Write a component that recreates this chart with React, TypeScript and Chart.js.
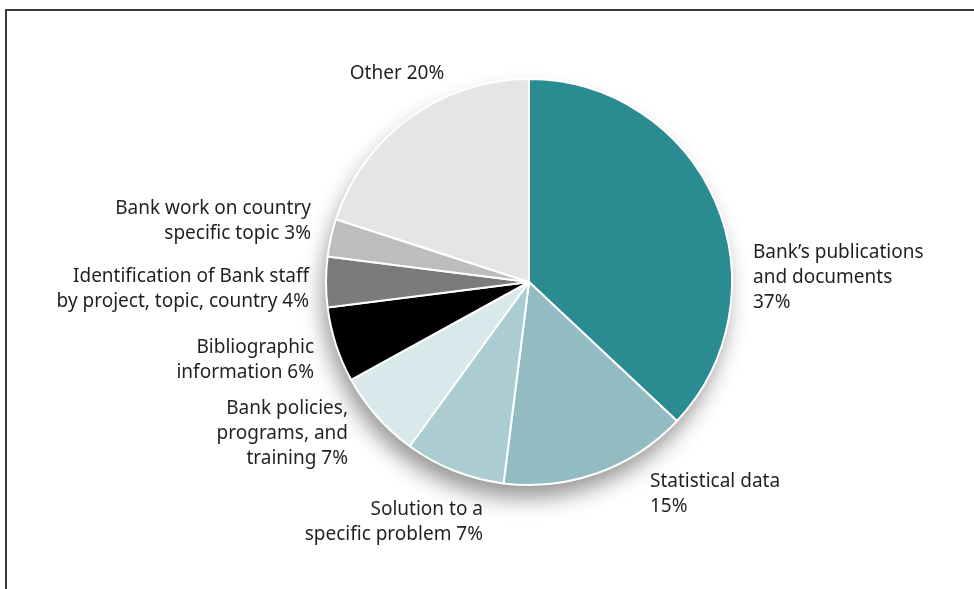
import React, { useEffect, useRef } from "react";
import { Chart, registerables } from "chart.js";

Chart.register(...registerables);

const categories: string[][] = [
  ["Bank’s publications", "and documents", "37%"],
  ["Statistical data", "15%"],
  ["Solution to a", "specific problem 7%"],
  ["Bank policies,", "programs, and", "training 7%"],
  ["Bibliographic", "information 6%"],
  ["Identification of Bank staff", "by project, topic, country 4%"],
  ["Bank work on country", "specific topic 3%"],
  ["Other 20%"],
];

const values = [37, 15, 8, 7, 6, 4, 3, 20];

const colors = [
  "#2a8b91",
  "#92bcc1",
  "#abcdd1",
  "#d8e8eb",
  "#000000",
  "#7b7b7b",
  "#bdbdbd",
  "#e5e5e5",
];

// label placement relative to pie centre (layout, not data)
const labelLayout: { dx: number; dy: number; align: CanvasTextAlign }[] = [
  { dx: 224, dy: -29, align: "left" },
  { dx: 121, dy: 200, align: "left" },
  { dx: -46, dy: 228, align: "right" },
  { dx: -181, dy: 127, align: "right" },
  { dx: -215, dy: 66, align: "right" },
  { dx: -220, dy: -5, align: "right" },
  { dx: -218, dy: -73, align: "right" },
  { dx: -132, dy: -208, align: "center" },
];

const FONT = '19px "Noto Sans", sans-serif';
const LINE = 25;

const shadowPlugin = {
  id: "pieShadow",
  beforeDatasetsDraw(chart: any) {
    const meta = chart.getDatasetMeta(0);
    const arc = meta.data[0];
    if (!arc) return;
    const { x, y, outerRadius } = arc.getProps(["x", "y", "outerRadius"], true);
    const ctx = chart.ctx;
    ctx.save();
    ctx.shadowColor = "rgba(0,0,0,0.42)";
    ctx.shadowBlur = 22;
    ctx.shadowOffsetX = -4;
    ctx.shadowOffsetY = 14;
    ctx.fillStyle = "#ffffff";
    ctx.beginPath();
    ctx.arc(x, y, outerRadius - 1, 0, Math.PI * 2);
    ctx.fill();
    ctx.restore();
  },
};

const labelPlugin = {
  id: "pieLabels",
  afterDatasetsDraw(chart: any) {
    const meta = chart.getDatasetMeta(0);
    const arc = meta.data[0];
    if (!arc) return;
    const { x, y } = arc.getProps(["x", "y"], true);
    const ctx = chart.ctx;
    ctx.save();
    ctx.font = FONT;
    ctx.fillStyle = "#231f20";
    ctx.textBaseline = "middle";
    categories.forEach((lines, i) => {
      const l = labelLayout[i];
      ctx.textAlign = l.align;
      lines.forEach((t, j) => {
        ctx.fillText(t, x + l.dx, y + l.dy + j * LINE);
      });
    });
    ctx.restore();
  },
};

export default function App() {
  const ref = useRef<HTMLCanvasElement | null>(null);

  useEffect(() => {
    if (!ref.current) return;
    const chart = new Chart(ref.current, {
      type: "pie",
      data: {
        labels: categories.map((c) => c.join(" ")),
        datasets: [
          {
            data: values,
            backgroundColor: colors,
            borderColor: "#ffffff",
            borderWidth: 2,
          },
        ],
      },
      options: {
        animation: false,
        responsive: true,
        maintainAspectRatio: false,
        layout: { padding: { left: 325, right: 241, top: 78, bottom: 103 } },
        plugins: {
          legend: { display: false },
          tooltip: { enabled: false },
        },
      },
      plugins: [shadowPlugin, labelPlugin],
    });
    return () => chart.destroy();
  }, []);

  return (
    <div style={{ position: "absolute", left: 0, top: 0, width: 974, height: 589, background: "#fff" }}>
      <div
        style={{
          position: "absolute",
          left: 5,
          top: 9,
          right: 0,
          bottom: 0,
          borderTop: "2px solid #3a3a3a",
          borderLeft: "2px solid #3a3a3a",
        }}
      />
      <canvas ref={ref} style={{ position: "absolute", left: 0, top: 0 }} />
    </div>
  );
}
